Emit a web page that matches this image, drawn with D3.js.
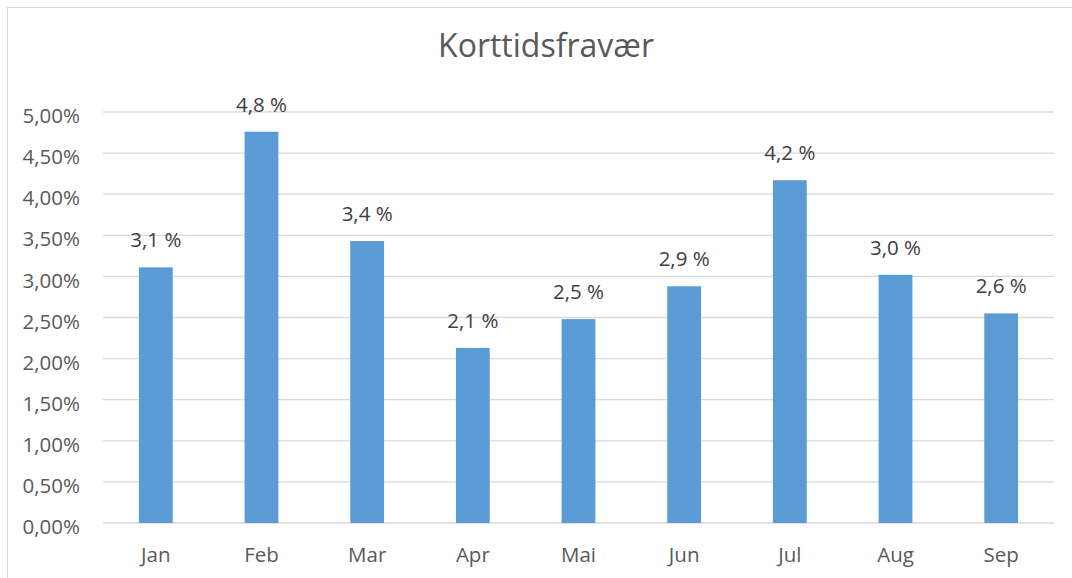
<!DOCTYPE html>
<html><head><meta charset="utf-8">
<script src="https://cdn.jsdelivr.net/npm/d3@7"></script>
<style>body{margin:0;background:#fff}svg{display:block}</style>
</head><body>
<script>
const categories = ["Jan","Feb","Mar","Apr","Mai","Jun","Jul","Aug","Sep"];
const values = [3.11, 4.76, 3.43, 2.13, 2.48, 2.88, 4.17, 3.02, 2.55];
const labels = ["3,1 %","4,8 %","3,4 %","2,1 %","2,5 %","2,9 %","4,2 %","3,0 %","2,6 %"];
const yTicks = [0,0.5,1,1.5,2,2.5,3,3.5,4,4.5,5];
const title = "Korttidsfravær";

const W = 1072, H = 578;
const font = "'Open Sans', 'Noto Sans', sans-serif";
const svg = d3.select("body").append("svg").attr("width", W).attr("height", H);
svg.append("rect").attr("x",7.5).attr("y",7.5).attr("width",1100).attr("height",600)
  .attr("fill","#fff").attr("stroke","#d9d9d9");

const x = d3.scaleBand().domain(categories).range([103, 1054]).paddingInner(0.68).paddingOuter(0.34);
const y = d3.scaleLinear().domain([0,5]).range([523, 112]);

const g = svg.append("g");
g.selectAll("line.grid").data(yTicks).join("line").attr("class","grid")
  .attr("x1",103).attr("x2",1054).attr("y1",d=>y(d)).attr("y2",d=>y(d))
  .attr("stroke","#d9d9d9").attr("stroke-width",1.3);

const yAxis = d3.axisLeft(y).tickValues(yTicks).tickSize(0).tickPadding(0)
  .tickFormat(d => d.toFixed(2).replace(".", ",") + "%");
const ya = svg.append("g").attr("transform","translate(80,0)").call(yAxis);
ya.select(".domain").remove();
ya.selectAll("text").attr("font-family",font).attr("font-size",20.5).attr("fill","#595959").attr("dy","0.52em");

g.selectAll("rect.bar").data(values).join("rect").attr("class","bar")
  .attr("x",(d,i)=>x(categories[i])).attr("width",x.bandwidth())
  .attr("y",d=>y(d)).attr("height",d=>y(0)-y(d)).attr("fill","#5b9bd5");

g.selectAll("text.lab").data(values).join("text").attr("class","lab")
  .attr("x",(d,i)=>x(categories[i])+x.bandwidth()/2).attr("y",d=>y(d)-20)
  .attr("text-anchor","middle").attr("font-family",font).attr("font-size",20.5).attr("fill","#404040")
  .text((d,i)=>labels[i]);

const xAxis = d3.axisBottom(x).tickSize(0).tickPadding(0);
const xa = svg.append("g").attr("transform","translate(0,523)").call(xAxis);
xa.select(".domain").remove();
xa.selectAll("text").attr("font-family",font).attr("font-size",20.5).attr("fill","#595959").attr("dy","0").attr("y",39);

svg.append("text").attr("x",546).attr("y",57).attr("text-anchor","middle")
  .attr("font-family",font).attr("font-size",32).attr("fill","#595959").text(title);
</script>
</body></html>
